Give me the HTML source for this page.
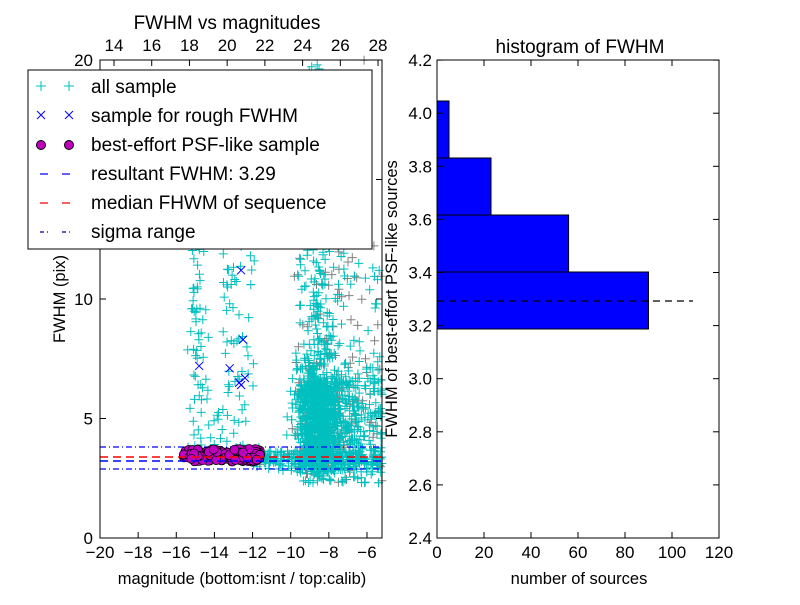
<!DOCTYPE html>
<html><head><meta charset="utf-8"><style>
body{margin:0;background:#fff}
svg{font-family:"Liberation Sans","DejaVu Sans",sans-serif}
</style></head><body>
<svg id="s" width="800" height="600" xmlns="http://www.w3.org/2000/svg">
<rect width="800" height="600" fill="#fff"/>
<g id="pts"></g>
<g id="hist">
<rect x="437" y="272" width="211.5" height="57" fill="#0000ff" stroke="#000"/>
<rect x="437" y="215" width="131.6" height="57" fill="#0000ff" stroke="#000"/>
<rect x="437" y="158" width="54" height="57" fill="#0000ff" stroke="#000"/>
<rect x="437" y="101" width="12" height="57" fill="#0000ff" stroke="#000"/>
<line x1="437" y1="301" x2="693" y2="301" stroke="#000" stroke-width="1.3" stroke-dasharray="7,5"/>
</g>
<rect x="100" y="60" width="282" height="478" fill="none" stroke="#000"/>
<rect x="437" y="60" width="282" height="478" fill="none" stroke="#000"/>
<g id="ticks" stroke="#000"></g>
<g id="labels" font-size="17" fill="#000"></g>
<text x="227" y="29" font-size="19" text-anchor="middle">FWHM vs magnitudes</text>
<text x="580" y="53" font-size="19" text-anchor="middle">histogram of FWHM</text>
<text x="242" y="584" font-size="16.5" text-anchor="middle">magnitude (bottom:isnt / top:calib)</text>
<text x="579" y="584" font-size="16.5" text-anchor="middle">number of sources</text>
<text transform="translate(65,299) rotate(-90)" font-size="16.5" text-anchor="middle">FWHM (pix)</text>
<text transform="translate(397,299) rotate(-90)" font-size="16.5" text-anchor="middle">FWHM of best-effort PSF-like sources</text>
<g id="legend">
<rect x="28" y="70" width="344" height="179" fill="#fff" stroke="#000"/>
<g font-size="19">
<text x="91" y="93">all sample</text>
<text x="91" y="122">sample for rough FWHM</text>
<text x="91" y="151">best-effort PSF-like sample</text>
<text x="91" y="180">resultant FWHM: 3.29</text>
<text x="91" y="209">median FHWM of sequence</text>
<text x="91" y="238">sigma range</text>
</g>
<g stroke="#00bfbf"><path d="M41 81v10M36 86h10M69 81v10M64 86h10"/></g>
<g stroke="#0000ff"><path d="M37 111l8 8M45 111l-8 8M65 111l8 8M73 111l-8 8"/></g>
<circle cx="41" cy="145" r="4.5" fill="#bf00bf" stroke="#000"/><circle cx="69" cy="145" r="4.5" fill="#bf00bf" stroke="#000"/>
<path d="M40 174h8M62 174h8" stroke="#0000ff" stroke-width="1.3"/>
<path d="M40 203h8M62 203h8" stroke="#ff0000" stroke-width="1.3"/>
<path d="M40 232h4M47 232h1M62 232h4M69 232h1" stroke="#00008b" stroke-width="1.3"/>
</g>
</svg>
<script>
var NS="http://www.w3.org/2000/svg";
function el(p,t,a){var e=document.createElementNS(NS,t);for(var k in a)e.setAttribute(k,a[k]);p.appendChild(e);return e;}
var seed=7;function r(){seed=(seed*16807)%2147483647;return seed/2147483647;}
function g(){return (r()+r()+r()+r()-2)*0.87;}
var P=document.getElementById('pts');
function X(m){return 100+(m+20)*19.07;}function Y(f){return 538-f*23.9;}
var d="",dg="";
function plus(m,f,gray){var x=X(m),y=Y(f);if(x<100||x>382||y<60||y>538)return;var s="M"+(x-4.5).toFixed(1)+" "+y.toFixed(1)+"h9M"+x.toFixed(1)+" "+(y-4.5).toFixed(1)+"v9";if(gray)dg+=s;else d+=s;}
var i,m,f;
for(i=0;i<1000;i++){m=-8.5+g()*1.1;f=2.5+Math.abs(g())*Math.abs(g())*4+r()*3.5;if(r()<0.25)f=2.8+r()*17;plus(m+(r()-0.5)*0.8,f,r()<0.12);}
for(i=0;i<400;i++){m=-9.5+r()*4.3;f=2.3+r()*4.5;plus(m,f,r()<0.15);}
for(i=0;i<120;i++){m=-9.8+r()*4.6;f=4+r()*8;plus(m,f,r()<0.2);}
for(i=0;i<250;i++){m=-12+r()*6.8;f=3.3+g()*0.4;plus(m,f,r()<0.1);}
for(i=0;i<180;i++){f=3.5+r()*12;m=-14.8+g()*0.5+(r()<0.45?1.0+r()*1.6:0);plus(m,f,false);}
for(i=0;i<50;i++){plus(-9.8+r()*4.5,5+r()*15,r()<0.2);}
el(P,'path',{d:dg,stroke:'#808080','stroke-width':1,fill:'none'});
el(P,'path',{d:d,stroke:'#00bfbf','stroke-width':1,fill:'none'});
var xs=[[-14.8,7.2],[-12.6,11.2],[-12.5,8.3],[-12.6,6.4],[-12.4,6.7],[-13.2,7.1],[-12.7,6.5]];
xs.forEach(function(p){var x=X(p[0]),y=Y(p[1]);el(P,'path',{d:"M"+(x-4)+" "+(y-4)+"l8 8M"+(x+4)+" "+(y-4)+"l-8 8",stroke:'#0000ff','stroke-width':1});});
el(P,'line',{x1:100,x2:382,y1:447,y2:447,stroke:'#0000ff','stroke-width':1.3,'stroke-dasharray':'6,3,1,3'});
el(P,'line',{x1:100,x2:382,y1:469,y2:469,stroke:'#0000ff','stroke-width':1.3,'stroke-dasharray':'6,3,1,3'});
for(i=0;i<140;i++){m=-15.7+Math.pow(r(),0.7)*4.1;if(i<3)m=-15.6;f=3.45+(r()-0.5)*0.55;el(P,'circle',{cx:X(m),cy:Y(f),r:4.5,fill:'#bf00bf',stroke:'#000','stroke-width':0.7});}
el(P,'line',{x1:100,x2:382,y1:457,y2:457,stroke:'#ff0000','stroke-width':1.4,'stroke-dasharray':'8,5'});
el(P,'line',{x1:100,x2:382,y1:461,y2:461,stroke:'#0000ff','stroke-width':1.4,'stroke-dasharray':'8,5'});
var T=document.getElementById('ticks'),L=document.getElementById('labels');
function tk(x1,y1,x2,y2){el(T,'line',{x1:x1,y1:y1,x2:x2,y2:y2});}
function lb(x,y,s,a){var t=el(L,'text',{x:x,y:y,'text-anchor':a||'middle'});t.textContent=s;}
for(m=-20;m<=-6;m+=2){var x=X(m);tk(x,538,x,532);lb(x,558,'\u2212'+(-m));}
for(var c=14;c<=28;c+=2){var x=114+(c-14)*18.86;tk(x,60,x,66);lb(x,51,c);}
for(f=0;f<=20;f+=5){var y=Y(f);tk(100,y,106,y);tk(382,y,376,y);lb(93,y+6,f,'end');}
for(var k=0;k<=9;k++){var v=2.4+k*0.2,y=538-k*53.1;tk(437,y,443,y);tk(719,y,713,y);lb(432,y+6,v.toFixed(1),'end');}
for(var n=0;n<=120;n+=20){var x=437+n*2.35;tk(x,538,x,532);tk(x,60,x,66);lb(x,558,n);}
</script>
</body></html>
